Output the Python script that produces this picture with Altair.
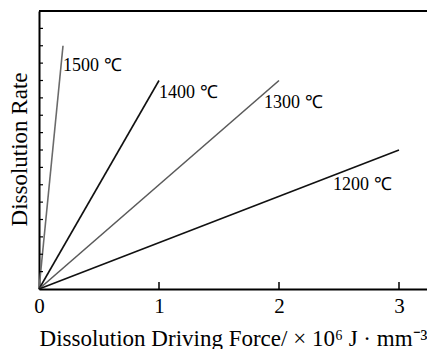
import altair as alt
import pandas as pd

# ---- data ----
series = ["1500 ℃", "1400 ℃", "1300 ℃", "1200 ℃"]
end_force = [0.2, 1.0, 2.0, 3.0]          # x at line end (×10^6 J·mm^-3)
end_rate = [14.0, 12.0, 12.0, 8.0]         # y at line end
line_colors = ["#6a6a6a", "#111111", "#5a5a5a", "#111111"]
label_x = [0.2, 1.0, 1.875, 2.45]
label_y = [12.85, 11.28, 10.7, 5.99]
x_tick_values = [0, 1, 2, 3]
y_tick_values = list(range(0, 17))

FONT = "Liberation Serif"
W, H = 388, 278
XMAX = W / 120.0

rows = []
for s, xe, ye in zip(series, end_force, end_rate):
    rows.append({"series": s, "x": 0.0, "y": 0.0, "o": 0})
    rows.append({"series": s, "x": xe, "y": ye, "o": 1})
lines_df = pd.DataFrame(rows)
labels_df = pd.DataFrame({"series": series, "x": label_x, "y": label_y})
xt_df = pd.DataFrame({"x": x_tick_values[1:]})
yt_df = pd.DataFrame({"y": y_tick_values[1:]})

xscale = alt.Scale(domain=[0, XMAX], nice=False, zero=False)
yscale = alt.Scale(domain=[0, 16], nice=False, zero=False)

x_enc = alt.X("x:Q", scale=xscale,
              axis=alt.Axis(values=x_tick_values, format="d", ticks=False, grid=False,
                            labelFont=FONT, labelFontSize=21, labelColor="black",
                            labelPadding=6, labelFlush=False,
                            domainColor="black", domainWidth=2,
                            title="Dissolution Driving Force/ × 10⁶ J · mm⁻³",
                            titleFont=FONT, titleFontSize=23, titleFontWeight="normal",
                            titleColor="black", titleBaseline="alphabetic", titleY=56))
y_enc = alt.Y("y:Q", scale=yscale,
              axis=alt.Axis(labels=False, ticks=False, grid=False,
                            domainColor="black", domainWidth=2,
                            title="Dissolution Rate",
                            titleFont=FONT, titleFontSize=23, titleFontWeight="normal",
                            titleColor="black", titlePadding=8, titleY=138))

lines = alt.Chart(lines_df).mark_line(strokeWidth=1.6).encode(
    x=x_enc, y=y_enc,
    color=alt.Color("series:N", scale=alt.Scale(domain=series, range=line_colors), legend=None),
    order="o:Q",
)

labels = alt.Chart(labels_df).mark_text(
    font=FONT, fontSize=18, align="left", baseline="middle", color="black"
).encode(x=alt.X("x:Q", scale=xscale), y=alt.Y("y:Q", scale=yscale), text="series:N")

xticks = alt.Chart(xt_df).mark_rule(color="black", strokeWidth=1.5).encode(
    x=alt.X("x:Q", scale=xscale), y=alt.value(H), y2=alt.value(H - 7))

yticks = alt.Chart(yt_df).mark_rule(color="black", strokeWidth=1.2).encode(
    y=alt.Y("y:Q", scale=yscale), x=alt.value(0), x2=alt.value(4))

top = alt.Chart(labels_df).mark_rule(color="black", strokeWidth=2).encode(
    x=alt.value(0), x2=alt.value(W), y=alt.value(0))

chart = alt.layer(lines, labels, xticks, yticks, top).properties(
    width=W, height=H,
    autosize=alt.AutoSizeParams(type="none"),
    padding={"left": 39, "top": 11, "right": 0, "bottom": 60},
).configure_view(stroke=None).configure(background="white")

chart.save("out.html", embed_options={"renderer": "svg", "actions": False})
